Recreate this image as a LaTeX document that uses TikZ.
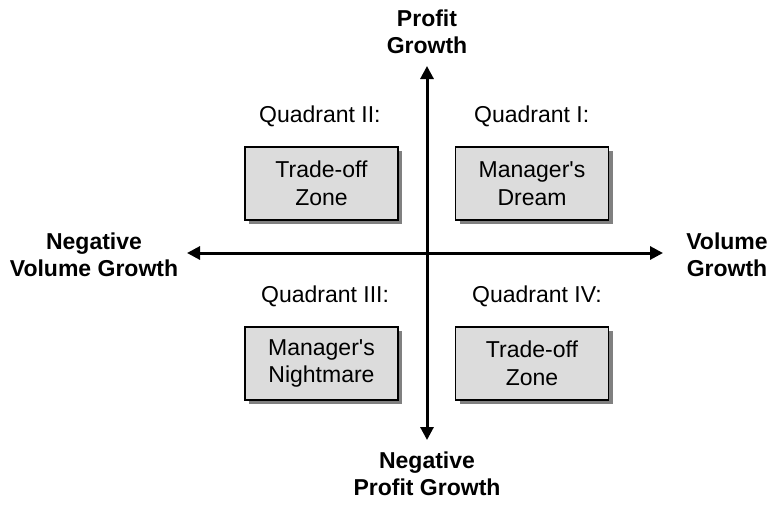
\documentclass[tikz,border=0pt]{standalone}
\usepackage{fontspec}
\setmainfont{Liberation Sans}
\usetikzlibrary{arrows.meta,shadows}
\definecolor{boxfill}{HTML}{DCDCDC}
\definecolor{shadowgray}{HTML}{808080}
\begin{document}
\begin{tikzpicture}[x=1pt,y=-1pt,
  txt/.style={font=\fontsize{23}{27.5}\selectfont, inner sep=0pt},
  axislabel/.style={txt, font=\fontsize{23}{27.5}\selectfont\bfseries, align=center},
  quadlabel/.style={txt, anchor=base west},
  zonebox/.style={txt, draw=black, line width=1.5pt, fill=boxfill, align=center,
    minimum width=153pt, minimum height=73pt,
    drop shadow={shadow xshift=4pt, shadow yshift=-4pt, fill=shadowgray, opacity=1}},
  axis/.style={line width=3pt, {Triangle[length=13pt,width=13pt]}-{Triangle[length=13pt,width=13pt]}}
]
\useasboundingbox (0,0) rectangle (771,504);

\coordinate (ytop) at (427,66);
\coordinate (ybot) at (427,440);
\coordinate (xleft) at (187,253);
\coordinate (xright) at (663,253);
\draw[axis] (ybot) -- (ytop);
\draw[axis] (xleft) -- (xright);

\node[axislabel] (pg) at (427,32) {Profit\\Growth};
\node[axislabel] (npg) at (427,474) {Negative\\Profit Growth};
\node[axislabel] (nvg) at (94,255) {Negative\\Volume Growth};
\node[axislabel] (vg) at (727,255) {Volume\\Growth};

\node[quadlabel] (q2) at (259,122) {Quadrant II:};
\node[quadlabel] (q1) at (474,122) {Quadrant I:};
\node[quadlabel] (q3) at (261,302) {Quadrant III:};
\node[quadlabel] (q4) at (472,302) {Quadrant IV:};

\node[zonebox] (b2) at (321.5,183.5) {Trade-off\\Zone};
\node[zonebox] (b1) at (532,183.5) {Manager\textquotesingle s\\Dream};
\node[zonebox] (b3) at (321.5,363.5) {Manager\textquotesingle s\\Nightmare};
\node[zonebox] (b4) at (532,363.5) {Trade-off\\Zone};
\end{tikzpicture}
\end{document}
